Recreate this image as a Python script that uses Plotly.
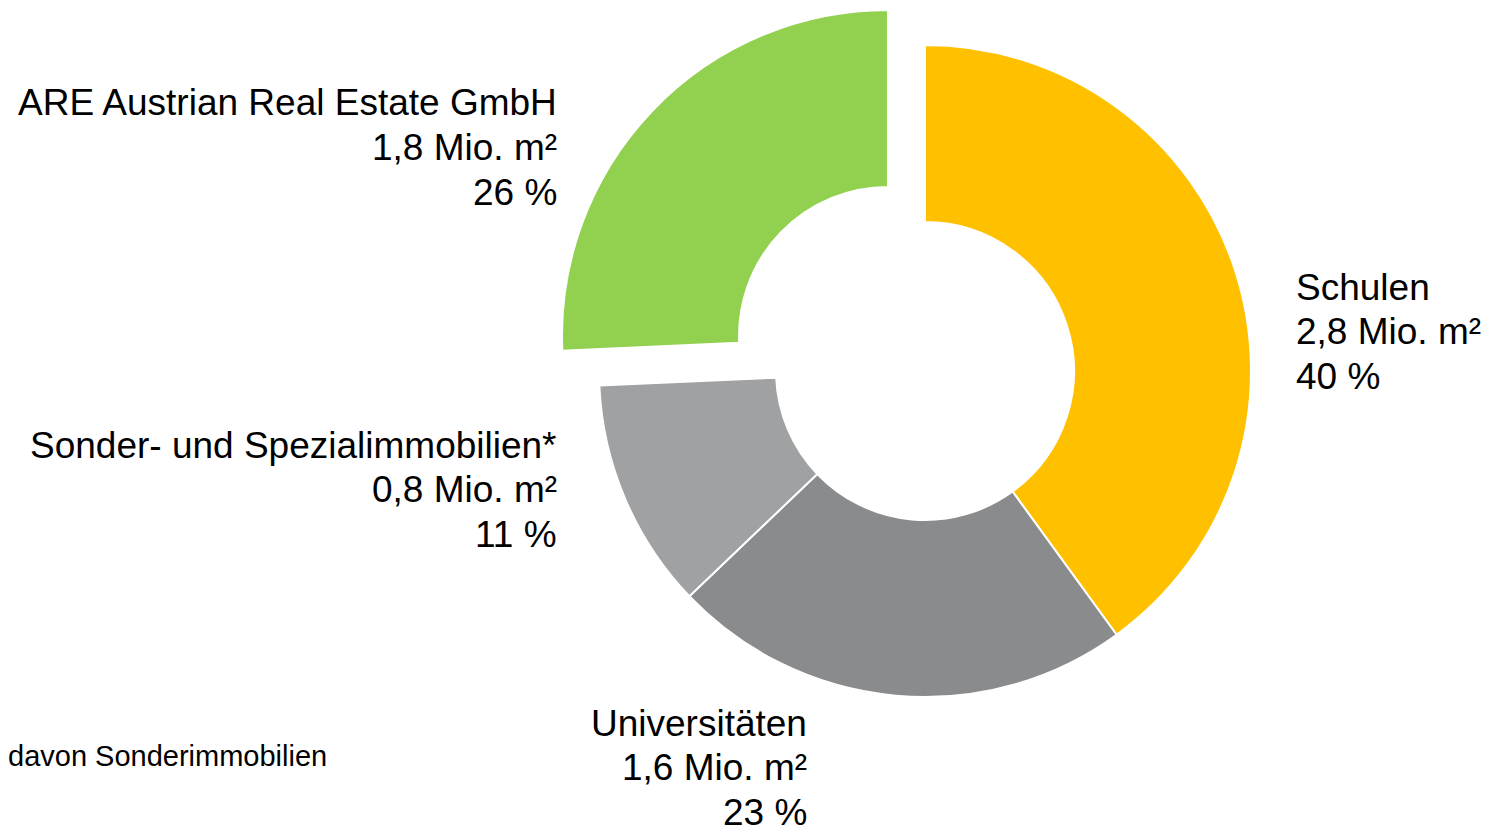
import plotly.graph_objects as go

# ---- data ----
categories = ["Schulen", "Universitäten", "Sonder- und Spezialimmobilien*", "ARE Austrian Real Estate GmbH"]
values = [2.8, 1.6, 0.8, 1.8]
area_labels = ["2,8 Mio. m²", "1,6 Mio. m²", "0,8 Mio. m²", "1,8 Mio. m²"]
pct_labels = ["40 %", "23 %", "11 %", "26 %"]
footnote = "davon Sonderimmobilien"

# ---- style ----
W, H = 1488, 830
slice_colors = ["#FFC000", "#8A8B8D", "#A0A1A3", "#92D050"]
transparent = "rgba(0,0,0,0)"
FONT = "Liberation Sans, Arial, sans-serif"
R = 326            # outer radius in px
HOLE = 0.457
main_center = (925, 371)      # px, from top-left
pulled_center = (888, 336)    # ARE slice offset outward
pulled_index = 3


def domain_for(center):
    cx, cy = center
    return dict(x=[(cx - R) / W, (cx + R) / W],
                y=[(H - cy - R) / H, (H - cy + R) / H])


fig = go.Figure()

# main ring (ARE slot left transparent)
main_colors = [c if i != pulled_index else transparent for i, c in enumerate(slice_colors)]
main_lw = [2 if i != pulled_index else 0 for i in range(len(values))]
fig.add_trace(go.Pie(
    labels=categories, values=values, sort=False, direction="clockwise", rotation=0,
    hole=HOLE, textinfo="none", hoverinfo="label+value", showlegend=False,
    marker=dict(colors=main_colors, line=dict(color="white", width=main_lw)),
    domain=domain_for(main_center),
))

# exploded ARE slice
pull_colors = [c if i == pulled_index else transparent for i, c in enumerate(slice_colors)]
pull_lw = [2 if i == pulled_index else 0 for i in range(len(values))]
fig.add_trace(go.Pie(
    labels=categories, values=values, sort=False, direction="clockwise", rotation=0,
    hole=HOLE, textinfo="none", hoverinfo="label+value", showlegend=False,
    marker=dict(colors=pull_colors, line=dict(color="white", width=pull_lw)),
    domain=domain_for(pulled_center),
))

# ---- labels ----
label_anchor = [  # (x px, first line center px, xanchor)
    (1294, 287, "left"),
    (809, 723, "right"),
    (559, 445, "right"),
    (559, 103, "right"),
]
LINE = 44.5
FS = 37
for i, cat in enumerate(categories):
    x, y0, xa = label_anchor[i]
    for j, line in enumerate([cat, area_labels[i], pct_labels[i]]):
        fig.add_annotation(
            x=x / W, y=1 - (y0 + j * LINE) / H, xref="paper", yref="paper",
            text=line, showarrow=False, xanchor=xa, yanchor="middle", align=xa,
            font=dict(family=FONT, size=FS, color="black"),
        )

fig.add_annotation(
    x=6 / W, y=1 - 756 / H, xref="paper", yref="paper",
    text=footnote, showarrow=False, xanchor="left", yanchor="middle",
    font=dict(family=FONT, size=29, color="black"),
)

fig.update_layout(
    width=W, height=H,
    margin=dict(l=0, r=0, t=0, b=0),
    paper_bgcolor="white", plot_bgcolor="white",
    font=dict(family=FONT),
)

fig.write_html("out.html", config={"displayModeBar": False},
               post_script="document.body.style.margin='0';")
